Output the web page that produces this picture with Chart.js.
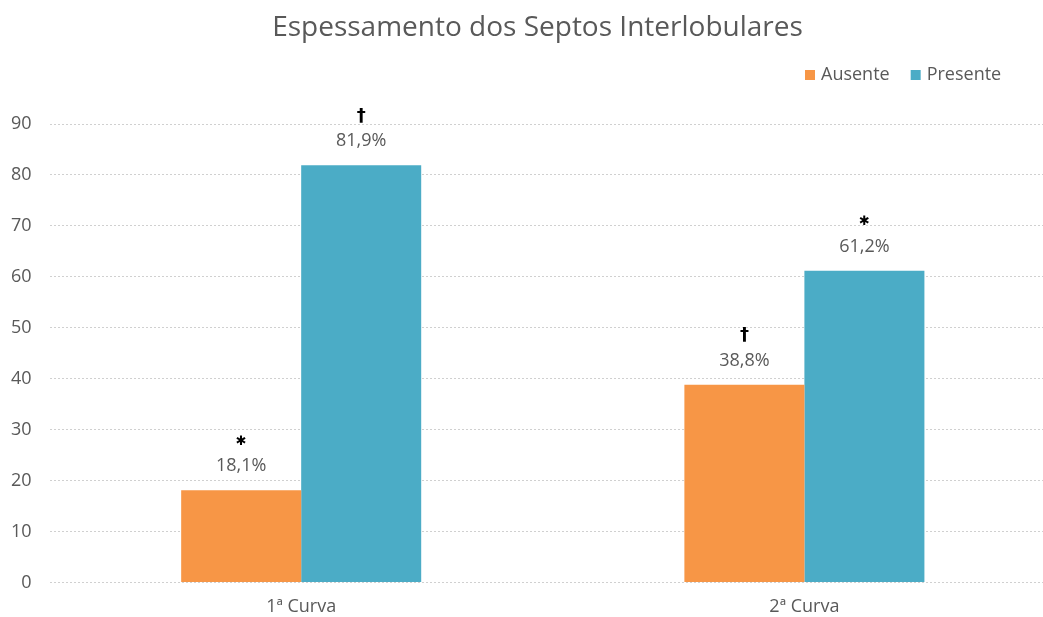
<!DOCTYPE html>
<html>
<head>
<meta charset="utf-8">
<script src="https://cdn.jsdelivr.net/npm/chart.js@4"></script>
<style>
  html, body { margin: 0; padding: 0; background: #fff; overflow: hidden; }
  #wrap { width: 1043px; height: 617px; overflow: hidden; position: relative; }
  #box { width: 1075px; height: 632px; margin-left: -7px; }
</style>
</head>
<body>
<div id="wrap"><div id="box"><canvas id="chart"></canvas></div></div>
<script>
// data
const categories = ['1ª Curva', '2ª Curva'];
const ausente = [18.1, 38.8];
const presente = [81.9, 61.2];
const ausenteMarks = ['✱', '†'];
const presenteMarks = ['†', '✱'];
const yTicks = [0, 10, 20, 30, 40, 50, 60, 70, 80, 90];

const FONT = '"Open Sans", "Noto Sans", sans-serif';
const GREY = '#595959';
const SHIFT = 7; // canvas starts 7px left of the page

// value labels + significance marks above each bar
const barLabels = {
  id: 'barLabels',
  afterDatasetsDraw(chart) {
    const ctx = chart.ctx;
    const marks = [ausenteMarks, presenteMarks];
    ctx.save();
    ctx.textAlign = 'center';
    ctx.textBaseline = 'middle';
    chart.data.datasets.forEach((ds, i) => {
      chart.getDatasetMeta(i).data.forEach((bar, j) => {
        const v = ds.data[j];
        ctx.fillStyle = GREY;
        ctx.font = '18px ' + FONT;
        ctx.fillText(v.toFixed(1).replace('.', ',') + '%', bar.x, bar.y - 24);
        ctx.fillStyle = '#000';
        const m = marks[i][j];
        ctx.font = (m === '†' ? 'bold 18px ' : '13px ') + '"DejaVu Sans", sans-serif';
        ctx.fillText(m, bar.x, bar.y - 49);
      });
    });
    ctx.restore();
  }
};

// legend in the top right like the original
const topLegend = {
  id: 'topLegend',
  afterDraw(chart) {
    const ctx = chart.ctx;
    ctx.save();
    ctx.font = '18px ' + FONT;
    ctx.textBaseline = 'middle';
    ctx.textAlign = 'left';
    let x = 805 + SHIFT;
    const y = 75;
    chart.data.datasets.forEach(ds => {
      ctx.fillStyle = ds.backgroundColor;
      ctx.fillRect(x, y - 5, 10, 10);
      ctx.fillStyle = GREY;
      ctx.fillText(ds.label, x + 16, y);
      x += 16 + ctx.measureText(ds.label).width + 21;
    });
    ctx.restore();
  }
};

const titleText = {
  id: 'titleText',
  afterDraw(chart) {
    const ctx = chart.ctx;
    ctx.save();
    ctx.font = '28px ' + FONT;
    ctx.fillStyle = GREY;
    ctx.textAlign = 'center';
    ctx.textBaseline = 'middle';
    ctx.fillText('Espessamento dos Septos Interlobulares', chart.width / 2 + SHIFT, 28);
    ctx.restore();
  }
};

new Chart(document.getElementById('chart'), {
  type: 'bar',
  data: {
    labels: categories,
    datasets: [
      { label: 'Ausente', data: ausente, backgroundColor: '#F79646' },
      { label: 'Presente', data: presente, backgroundColor: '#4BACC6' }
    ]
  },
  options: {
    responsive: true,
    maintainAspectRatio: false,
    animation: false,
    events: [],
    categoryPercentage: 0.477,
    barPercentage: 1,
    layout: { padding: { top: 124, left: 0, right: 12, bottom: 0 } },
    plugins: {
      legend: { display: false },
      tooltip: { enabled: false },
      title: { display: false }
    },
    scales: {
      x: {
        grid: { display: false, drawTicks: false },
        border: { display: false },
        ticks: { color: GREY, font: { family: FONT, size: 18 }, padding: 14 }
      },
      y: {
        min: 0,
        max: 90,
        afterBuildTicks(scale) { scale.ticks = yTicks.map(v => ({ value: v })); },
        grid: { color: '#d0d0d0', drawTicks: false },
        border: { display: false, dash: [2, 2] },
        ticks: { color: GREY, font: { family: FONT, size: 18 }, padding: 18 }
      }
    }
  },
  plugins: [barLabels, topLegend, titleText]
});
</script>
</body>
</html>
